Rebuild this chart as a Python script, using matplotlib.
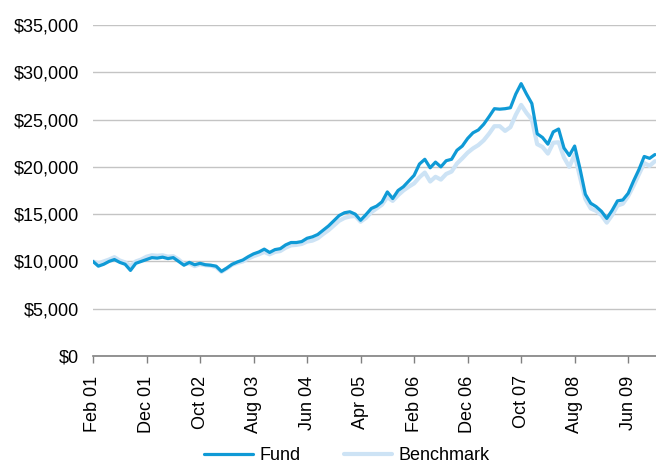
"""
Growth of $10,000: fund vs benchmark, monthly, Feb 2001 - Nov 2009.
"""

import numpy as np
import matplotlib
matplotlib.use("Agg")
import matplotlib.pyplot as plt
from matplotlib.ticker import FuncFormatter


# ---------------------------------------------------------------------
# Data
# ---------------------------------------------------------------------

fund = [
    10000, 9500, 9700, 10000, 10200, 9900, 9700, 9050, 9800, 10000,
    10200, 10400, 10350, 10450, 10300, 10400, 10000, 9600, 9900, 9650,
    9800, 9650, 9600, 9500, 8950, 9300, 9700, 9950, 10150, 10500,
    10800, 11000, 11300, 10950, 11250, 11350, 11750, 12000, 12000, 12100,
    12450, 12600, 12850, 13300, 13750, 14300, 14850, 15150, 15250, 15000,
    14350, 14950, 15600, 15850, 16300, 17350, 16650, 17500, 17900, 18500,
    19100, 20300, 20800, 19900, 20500, 20000, 20650, 20800, 21750, 22200,
    23000, 23600, 23900, 24500, 25300, 26150, 26100, 26150, 26250, 27700,
    28800, 27700, 26700, 23500, 23100, 22400, 23700, 24000, 22000, 21200,
    22200, 19800, 17100, 16150, 15800, 15300, 14550, 15400, 16400, 16500,
    17200, 18500, 19700, 21100, 20900, 21300,
]

benchmark = [
    10000, 9800, 10000, 10200, 10450, 10100, 9900, 9500, 10000, 10200,
    10500, 10650, 10600, 10650, 10500, 10550, 10200, 9700, 9800, 9500,
    9700, 9600, 9550, 9400, 8900, 9250, 9650, 9850, 10000, 10300,
    10550, 10750, 11000, 10750, 11000, 11100, 11450, 11700, 11750, 11850,
    12100, 12200, 12450, 12900, 13300, 13800, 14300, 14600, 14750, 14800,
    14200, 14600, 15200, 15600, 16000, 16800, 16400, 17000, 17500, 17900,
    18250, 18900, 19400, 18450, 18950, 18650, 19250, 19500, 20350, 20900,
    21500, 21950, 22300, 22800, 23500, 24300, 24300, 23800, 24200, 25500,
    26550, 25700, 25000, 22400, 22100, 21400, 22550, 22600, 21000, 20000,
    21300, 18900, 16600, 15600, 15350, 14900, 14100, 14900, 15900, 16100,
    16900, 18000, 19200, 20400, 20100, 20600,
]

tick_labels = [
    "Feb 01", "Dec 01", "Oct 02", "Aug 03", "Jun 04", "Apr 05",
    "Feb 06", "Dec 06", "Oct 07", "Aug 08", "Jun 09",
]

FUND_COLOR = "#0f9ad6"
BENCH_COLOR = "#cde3f5"
GRID_COLOR = "#c4c4c4"

plt.rcParams["font.family"] = ["Liberation Sans", "DejaVu Sans"]
plt.rcParams["font.size"] = 13


# ---------------------------------------------------------------------
# Figure
# ---------------------------------------------------------------------

months = np.arange(len(fund))

fig = plt.figure(figsize=(6.56, 4.66), dpi=100)
ax = fig.add_axes([93 / 656, 1 - 356 / 466, 1 - 93 / 656, (356 - 25) / 466])

ax.plot(months, benchmark, color=BENCH_COLOR, lw=3.0, label="Benchmark",
        solid_joinstyle="round", solid_capstyle="round", zorder=2)
ax.plot(months, fund, color=FUND_COLOR, lw=2.3, label="Fund",
        solid_joinstyle="round", solid_capstyle="round", zorder=3)

ax.set_ylim(0, 35000)
ax.set_xlim(0, 105.2)
ax.set_yticks(np.arange(0, 35001, 5000))
ax.yaxis.set_major_formatter(FuncFormatter(lambda v, _: f"${v:,.0f}"))
ax.tick_params(axis="y", length=0, pad=10, colors="black")
ax.grid(axis="y", color=GRID_COLOR, lw=1.0, zorder=0)
ax.set_axisbelow(True)

ax.set_xticks(months[::10])
ax.set_xticklabels(tick_labels, rotation=90)
ax.tick_params(axis="x", length=5, width=1, color="#808080", pad=9)

for side in ("left", "right", "top"):
    ax.spines[side].set_visible(False)
ax.spines["bottom"].set_color("#808080")
ax.spines["bottom"].set_linewidth(1.2)

handles, labels = ax.get_legend_handles_labels()
fig.legend(handles[::-1], labels[::-1], loc="center", ncol=2,
           bbox_to_anchor=(347 / 656, 1 - 456 / 466), frameon=False,
           handlelength=2.7, handletextpad=0.35, columnspacing=2.4,
           borderaxespad=0, borderpad=0)

fig.savefig("out.png", dpi=100)
plt.close(fig)
